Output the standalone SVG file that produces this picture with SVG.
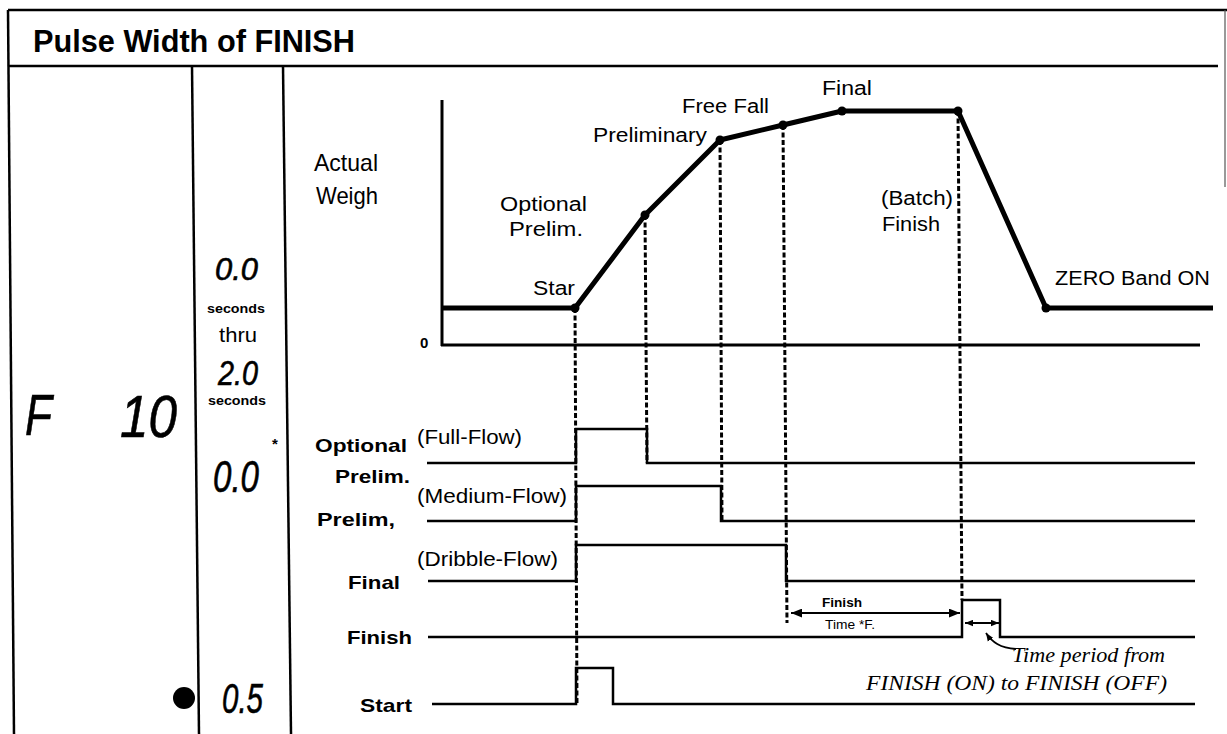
<svg xmlns="http://www.w3.org/2000/svg" width="1227" height="734" viewBox="0 0 1227 734">
<style>
.frame{stroke:#000;stroke-width:2.5;fill:none}
.thin{stroke:#555;stroke-width:1.2;fill:none}
.sans{font-family:"Liberation Sans",Arial,sans-serif;fill:#000}
.b{font-weight:bold}
.lcd{font-family:"Liberation Sans",Arial,sans-serif;font-style:italic;fill:#000;stroke:#000;stroke-width:0.6}
.ser{font-family:"Liberation Serif","Times New Roman",serif;font-style:italic;fill:#000}
.sig{stroke:#000;stroke-width:2.5;fill:none}
.dash{stroke:#000;stroke-width:3;stroke-dasharray:5 2.5;fill:none}
.curve{stroke:#000;stroke-width:5;fill:none;stroke-linejoin:round}
.axis{stroke:#000;stroke-width:3;fill:none}
.arr{stroke:#000;stroke-width:1.8;fill:none}
</style>
<defs>
<marker id="ah" viewBox="0 0 10 8" refX="10" refY="4" markerUnits="userSpaceOnUse" markerWidth="11" markerHeight="9" orient="auto-start-reverse">
<path d="M0,0 L10,4 L0,8 z" fill="#000"/>
</marker>
<marker id="ahs" viewBox="0 0 10 8" refX="10" refY="4" markerUnits="userSpaceOnUse" markerWidth="8" markerHeight="7" orient="auto-start-reverse">
<path d="M0,0 L10,4 L0,8 z" fill="#000"/>
</marker>
</defs>
<rect width="1227" height="734" fill="#fff"/>

<g id="frame">
<line class="frame" x1="8" y1="10" x2="1227" y2="10"/>
<line class="frame" x1="8" y1="10" x2="14" y2="734"/>
<line class="frame" x1="8" y1="66" x2="1218" y2="66"/>
<line class="thin" x1="1225" y1="10" x2="1225" y2="187"/>
<line class="frame" x1="192" y1="66" x2="199" y2="734"/>
<line class="frame" x1="283" y1="66" x2="291" y2="734"/>
<text class="sans b" x="33" y="52" font-size="31" textLength="322" lengthAdjust="spacingAndGlyphs">Pulse Width of FINISH</text>
</g>

<g id="display">
<text class="lcd" x="25" y="435" font-size="58" textLength="27" lengthAdjust="spacingAndGlyphs">F</text>
<text class="lcd" x="120" y="437" font-size="60" textLength="57" lengthAdjust="spacingAndGlyphs">10</text>
<text class="lcd" x="215" y="280" font-size="31" textLength="43" lengthAdjust="spacingAndGlyphs">0.0</text>
<text class="sans b" x="207" y="313" font-size="12" textLength="58" lengthAdjust="spacingAndGlyphs">seconds</text>
<text class="sans" x="219" y="342" font-size="20" textLength="38" lengthAdjust="spacingAndGlyphs">thru</text>
<text class="lcd" x="218" y="385" font-size="35" textLength="40" lengthAdjust="spacingAndGlyphs">2.0</text>
<text class="sans b" x="208" y="405" font-size="12" textLength="58" lengthAdjust="spacingAndGlyphs">seconds</text>
<text class="sans b" x="272" y="449" font-size="15">*</text>
<text class="lcd" x="213" y="492" font-size="44" textLength="46" lengthAdjust="spacingAndGlyphs">0.0</text>
<circle cx="184" cy="698" r="11" fill="#000"/>
<text class="lcd" x="222" y="713" font-size="43" textLength="41" lengthAdjust="spacingAndGlyphs">0.5</text>
</g>

<g id="weigh-chart">
<line class="axis" x1="442" y1="100" x2="442" y2="346"/>
<line class="axis" x1="441" y1="345" x2="1200" y2="345"/>
<text class="sans b" x="420" y="348" font-size="15">0</text>
<text class="sans" x="314" y="171" font-size="24" textLength="64" lengthAdjust="spacingAndGlyphs">Actual</text>
<text class="sans" x="316" y="204" font-size="24" textLength="62" lengthAdjust="spacingAndGlyphs">Weigh</text>
<text class="sans" x="500" y="211" font-size="20" textLength="87" lengthAdjust="spacingAndGlyphs">Optional</text>
<text class="sans" x="509" y="236" font-size="20" textLength="74" lengthAdjust="spacingAndGlyphs">Prelim.</text>
<text class="sans" x="533" y="295" font-size="20" textLength="42" lengthAdjust="spacingAndGlyphs">Star</text>
<text class="sans" x="593" y="142" font-size="20" textLength="114" lengthAdjust="spacingAndGlyphs">Preliminary</text>
<text class="sans" x="682" y="113" font-size="20" textLength="87" lengthAdjust="spacingAndGlyphs">Free Fall</text>
<text class="sans" x="822" y="95" font-size="20" textLength="50" lengthAdjust="spacingAndGlyphs">Final</text>
<text class="sans" x="881" y="205" font-size="20" textLength="72" lengthAdjust="spacingAndGlyphs">(Batch)</text>
<text class="sans" x="882" y="231" font-size="20" textLength="58" lengthAdjust="spacingAndGlyphs">Finish</text>
<text class="sans" x="1055" y="285" font-size="20" textLength="155" lengthAdjust="spacingAndGlyphs">ZERO Band ON</text>
<path class="curve" d="M442,308 L575,308 L645,215 L720,140 L783,125 L842,111 L958,111 L1046,308 L1213,308"/>
<g fill="#000">
<circle cx="575" cy="308" r="4.5"/>
<circle cx="645" cy="215" r="4.5"/>
<circle cx="720" cy="140" r="4.5"/>
<circle cx="783" cy="125" r="4.5"/>
<circle cx="842" cy="111" r="4.5"/>
<circle cx="958" cy="111" r="4.5"/>
<circle cx="1046" cy="308" r="4.5"/>
</g>
</g>

<g id="connectors">
<line class="dash" x1="575" y1="308" x2="577" y2="704"/>
<line class="dash" x1="645" y1="215" x2="647" y2="463"/>
<line class="dash" x1="720" y1="140" x2="722" y2="521"/>
<line class="dash" x1="783" y1="125" x2="787" y2="623"/>
<line class="dash" x1="958" y1="111" x2="962" y2="600"/>
</g>

<g id="signals">
<path class="sig" d="M427,463 H576 V429 H647 V463 H1195"/>
<path class="sig" d="M427,521 H576 V486 H721 V521 H1195"/>
<path class="sig" d="M428,581 H576 V545 H786 V581 H1195"/>
<path class="sig" d="M428,637 H962 V600 H1000 V637 H1195"/>
<path class="sig" d="M432,704 H576 V668 H613 V704 H1195"/>
<text class="sans b" x="315" y="452" font-size="19" textLength="92" lengthAdjust="spacingAndGlyphs">Optional</text>
<text class="sans b" x="335" y="483" font-size="19" textLength="75" lengthAdjust="spacingAndGlyphs">Prelim.</text>
<text class="sans b" x="317" y="526" font-size="19" textLength="78" lengthAdjust="spacingAndGlyphs">Prelim,</text>
<text class="sans b" x="348" y="589" font-size="19" textLength="52" lengthAdjust="spacingAndGlyphs">Final</text>
<text class="sans b" x="347" y="644" font-size="19" textLength="65" lengthAdjust="spacingAndGlyphs">Finish</text>
<text class="sans b" x="360" y="712" font-size="19" textLength="52" lengthAdjust="spacingAndGlyphs">Start</text>
<text class="sans" x="417" y="444" font-size="20" textLength="105" lengthAdjust="spacingAndGlyphs">(Full-Flow)</text>
<text class="sans" x="417" y="503" font-size="20" textLength="150" lengthAdjust="spacingAndGlyphs">(Medium-Flow)</text>
<text class="sans" x="417" y="566" font-size="20" textLength="141" lengthAdjust="spacingAndGlyphs">(Dribble-Flow)</text>
</g>

<g id="timing-annotations">
<line class="arr" x1="791" y1="613" x2="960" y2="613" marker-start="url(#ah)" marker-end="url(#ah)"/>
<text class="sans b" x="822" y="607" font-size="12" textLength="40" lengthAdjust="spacingAndGlyphs">Finish</text>
<text class="sans" x="825" y="629" font-size="12" textLength="50" lengthAdjust="spacingAndGlyphs">Time *F.</text>
<line class="arr" x1="965" y1="623" x2="999" y2="623" marker-start="url(#ahs)" marker-end="url(#ahs)"/>
<path class="arr" d="M1016,649 C1000,648 992,642 986,633" marker-end="url(#ahs)"/>
<text class="ser" x="1012" y="662" font-size="20" textLength="153" lengthAdjust="spacingAndGlyphs">Time period from</text>
<text class="ser" x="866" y="690" font-size="20" textLength="301" lengthAdjust="spacingAndGlyphs">FINISH (ON) to FINISH (OFF)</text>
</g>
</svg>
